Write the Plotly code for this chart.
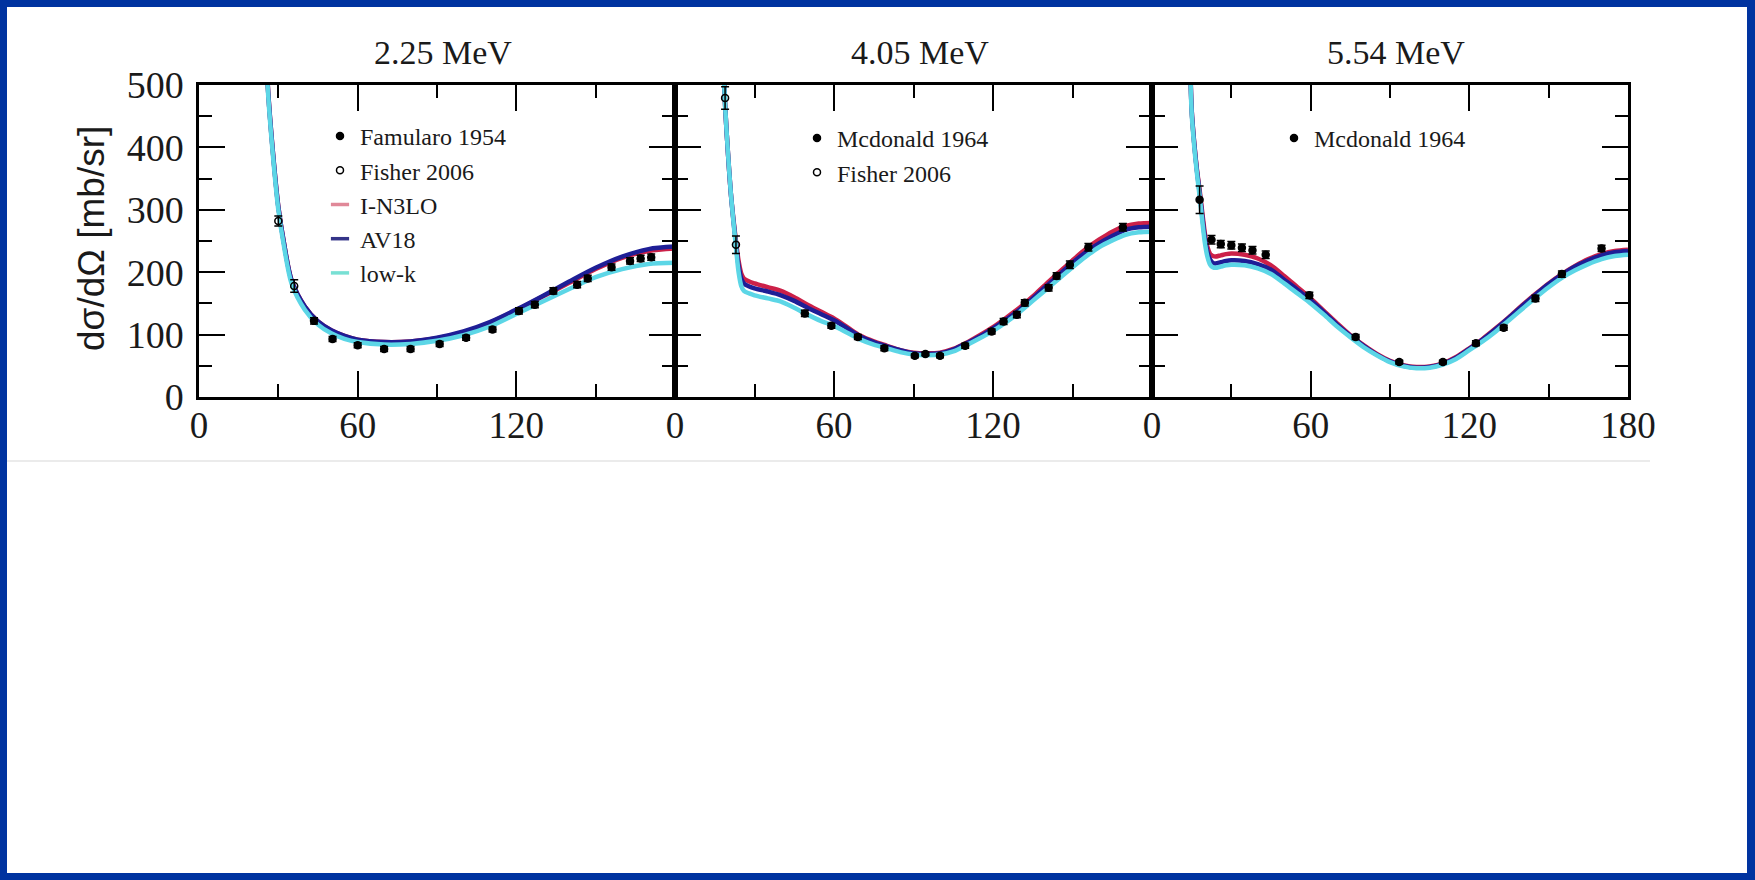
import plotly.graph_objects as go

W, H = 1755, 880

# ---------------- 2.25 MeV ----------------
theta_225 = [22, 24, 26, 28, 30, 32, 35, 40, 45, 50, 55, 60, 70, 80, 90, 100, 110, 120, 130, 140, 150, 160, 170, 180]
in3lo_225 = [1100, 720, 500, 390, 305, 250, 187, 145, 121, 107, 98, 92, 88, 89, 94, 104, 119, 139, 161, 183, 205, 223, 234, 238]
av18_225 = [1100, 720, 500, 390, 305, 250, 187, 145, 121, 107, 98, 92, 88, 89, 95, 105, 120, 140, 162, 185, 207, 225, 237, 241]
lowk_225 = [1100, 715, 495, 385, 300, 245, 182, 140, 116, 102, 93, 88, 84, 85, 90, 99, 113, 133, 153, 173, 192, 205, 213, 215]
famularo_225_x = [43.5, 50.5, 60, 70, 80, 91, 101, 111, 121, 127, 134, 143, 147, 156, 163, 167, 171]
famularo_225_y = [122, 93, 83, 77, 77, 85, 95, 108, 138, 148, 170, 180, 190, 208, 218, 222, 224]
famularo_225_err = [5, 4, 4, 4, 4, 4, 4, 4, 5, 5, 5, 5, 5, 5, 5, 5, 5]
fisher_225_x = [30, 36]
fisher_225_y = [282, 178]
fisher_225_err = [8, 10]

# ---------------- 4.05 MeV ----------------
theta_405 = [16, 17, 18, 19, 20, 21, 22, 23, 24, 25, 26, 28, 30, 35, 40, 45, 50, 55, 60, 65, 70, 75, 80, 85,
             90, 95, 100, 105, 110, 115, 120, 125, 130, 135, 140, 145, 150, 155, 160, 165, 170, 175, 180]
in3lo_405 = [900, 700, 560, 460, 390, 330, 287, 250, 218, 198, 190, 185, 182, 176, 170, 160, 148, 137, 126, 112, 98, 89, 82, 75,
             71, 70, 71, 77, 87, 99, 112, 127, 143, 161, 181, 200, 219, 237, 252, 265, 274, 278, 279]
av18_405 = [900, 700, 560, 460, 390, 330, 285, 245, 210, 190, 182, 177, 174, 169, 163, 154, 143, 133, 123, 110, 97, 88, 81, 75,
            70, 69, 70, 76, 86, 97, 110, 124, 140, 158, 177, 196, 215, 232, 246, 258, 268, 272, 273]
lowk_405 = [900, 700, 560, 460, 390, 330, 283, 240, 200, 178, 170, 166, 163, 158, 153, 143, 132, 122, 114, 103, 92, 84, 78, 72,
            68, 67, 68, 73, 83, 94, 106, 120, 136, 154, 172, 190, 208, 225, 240, 251, 260, 264, 265]
mcdonald_405_x = [49, 59, 69, 79, 90.5, 94.5, 100, 109.5, 119.5, 124, 129, 132, 141, 144, 149, 156, 169]
mcdonald_405_y = [134, 114, 96, 78, 66, 69, 66, 82, 105, 121, 132, 151, 175, 194, 212, 240, 272]
mcdonald_405_err = [5, 4, 4, 4, 3, 3, 3, 4, 4, 5, 5, 5, 5, 5, 6, 6, 6]
fisher_405_x = [18.9, 23]
fisher_405_y = [479, 244]
fisher_405_err = [18, 14]

# ---------------- 5.54 MeV ----------------
theta_554 = [13, 14, 15, 16, 17, 18, 19, 20, 21, 22, 23, 24, 26, 28, 30, 35, 40, 45, 50, 55, 60, 65, 70, 75, 80, 85, 90,
             95, 100, 105, 110, 115, 120, 125, 130, 135, 140, 145, 150, 155, 160, 165, 170, 175, 180]
in3lo_554 = [900, 620, 460, 405, 364, 332, 296, 262, 240, 229, 226, 225, 227, 229, 230, 228, 222, 211, 194, 176, 158, 138, 118,
             99, 83, 69, 58, 51, 48, 49, 54, 64, 78, 93, 110, 128, 147, 165, 182, 197, 210, 221, 229, 234, 236]
av18_554 = [900, 620, 460, 405, 362, 328, 290, 255, 232, 220, 215, 214, 216, 218, 219, 218, 213, 204, 188, 172, 155, 136, 116,
            98, 82, 68, 57, 50, 47, 48, 53, 63, 77, 92, 109, 127, 146, 164, 181, 196, 209, 219, 227, 232, 234]
lowk_554 = [900, 615, 455, 400, 358, 322, 283, 247, 224, 212, 208, 207, 209, 211, 212, 211, 206, 197, 182, 166, 150, 132, 113,
            96, 80, 67, 56, 49, 46, 47, 52, 61, 75, 89, 105, 123, 141, 159, 176, 191, 203, 213, 221, 226, 228]
mcdonald_554_x = [18, 22.5, 26, 30, 34, 38, 43, 59.5, 77, 93.5, 110, 122.5, 133, 145, 155, 170]
mcdonald_554_y = [316, 252, 245, 243, 239, 235, 228, 163, 96, 56, 56, 86, 111, 158, 197, 238]
mcdonald_554_err = [22, 7, 6, 6, 6, 6, 6, 5, 4, 3, 3, 4, 4, 5, 5, 5]

energy_titles = ["2.25 MeV", "4.05 MeV", "5.54 MeV"]
x_tickvals = [0, 60, 120, 180]
x_ticktext = [["0", "60", "120", ""], ["0", "60", "120", ""], ["0", "60", "120", "180"]]
y_tickvals = [0, 100, 200, 300, 400, 500]

C_IN3LO = "#cc2048"
C_AV18 = "#1e1e96"
C_LOWK = "#5cd6e6"
LEG_IN3LO = "#e08898"
LEG_AV18 = "#343488"
LEG_LOWK = "#78e0d4"

SERIF = "Liberation Serif"
SANS = "Liberation Sans"

fig = go.Figure()


def add_models(theta, a, b, c, ax):
    xa, ya = ("x" if ax == 1 else f"x{ax}"), ("y" if ax == 1 else f"y{ax}")
    for vals, col in ((a, C_IN3LO), (b, C_AV18), (c, C_LOWK)):
        fig.add_trace(go.Scatter(x=theta, y=vals, mode="lines", xaxis=xa, yaxis=ya,
                                 line=dict(color=col, width=4.5, shape="spline", smoothing=0.8),
                                 showlegend=False, hoverinfo="skip"))


def add_data(x, y, err, name, filled, ax, legend):
    xa, ya = ("x" if ax == 1 else f"x{ax}"), ("y" if ax == 1 else f"y{ax}")
    marker = dict(symbol="circle" if filled else "circle-open", size=7,
                  color="black", line=dict(color="black", width=1.5))
    fig.add_trace(go.Scatter(x=x, y=y, mode="markers", xaxis=xa, yaxis=ya, name=name,
                             marker=marker, legend=legend,
                             error_y=dict(type="data", array=err, color="black", thickness=1.5, width=4)))


def add_legend_line(name, col, legend):
    fig.add_trace(go.Scatter(x=[None], y=[None], mode="markers", name=name, legend=legend,
                             marker=dict(symbol="line-ew", size=13, color=col, line=dict(color=col, width=3.5))))


# Panel 1
add_models(theta_225, in3lo_225, av18_225, lowk_225, 1)
add_data(famularo_225_x, famularo_225_y, famularo_225_err, "Famularo 1954", True, 1, "legend")
add_data(fisher_225_x, fisher_225_y, fisher_225_err, "Fisher 2006", False, 1, "legend")
add_legend_line("I-N3LO", LEG_IN3LO, "legend")
add_legend_line("AV18", LEG_AV18, "legend")
add_legend_line("low-k", LEG_LOWK, "legend")

# Panel 2
add_models(theta_405, in3lo_405, av18_405, lowk_405, 2)
add_data(mcdonald_405_x, mcdonald_405_y, mcdonald_405_err, "Mcdonald 1964", True, 2, "legend2")
add_data(fisher_405_x, fisher_405_y, fisher_405_err, "Fisher 2006", False, 2, "legend2")

# Panel 3
add_models(theta_554, in3lo_554, av18_554, lowk_554, 3)
add_data(mcdonald_554_x, mcdonald_554_y, mcdonald_554_err, "Mcdonald 1964", True, 3, "legend3")

# ---- layout geometry (pixels -> paper) ----
px = lambda v: v / W
py = lambda v: (H - v) / H
x_edges = [199, 675, 1152, 1628]
y_top, y_bot = 85, 397

axis_common = dict(showline=True, linecolor="black", linewidth=2.5, mirror="ticks",
                   ticks="inside", ticklen=26, tickwidth=2, tickcolor="black",
                   showgrid=False, zeroline=False, fixedrange=True, automargin=False,
                   tickfont=dict(family=SERIF, size=37, color="#1a1a1a"))

layout = dict(width=W, height=H, autosize=False,
              margin=dict(l=0, r=0, t=0, b=0, pad=0),
              paper_bgcolor="#0033a0", plot_bgcolor="white",
              showlegend=True)

for i in range(3):
    sfx = "" if i == 0 else str(i + 1)
    layout["xaxis" + sfx] = dict(axis_common, domain=[px(x_edges[i]), px(x_edges[i + 1])],
                                 anchor="y" + sfx, range=[0, 180],
                                 tickvals=x_tickvals, ticktext=x_ticktext[i],
                                 ticklabelstandoff=-6,
                                 minor=dict(tickvals=[30, 90, 150], ticks="inside", ticklen=13,
                                            tickwidth=2, tickcolor="black"))
    layout["yaxis" + sfx] = dict(axis_common, domain=[py(y_bot), py(y_top)],
                                 anchor="x" + sfx, range=[0, 500],
                                 tickvals=y_tickvals, showticklabels=(i == 0),
                                 ticklabelstandoff=5,
                                 tickfont=dict(family=SERIF, size=38, color="#1a1a1a"),
                                 minor=dict(tickvals=[50, 150, 250, 350, 450], ticks="inside", ticklen=13,
                                            tickwidth=2, tickcolor="black"))

leg_common = dict(bgcolor="rgba(0,0,0,0)", borderwidth=0, itemwidth=30, tracegroupgap=0,
                  xanchor="left", yanchor="top", orientation="v", traceorder="normal",
                  font=dict(family=SERIF, size=24, color="#1a1a1a"), itemclick=False, itemdoubleclick=False)
layout["legend"] = dict(leg_common, x=px(320), y=py(114))
layout["legend2"] = dict(leg_common, x=px(797), y=py(116))
layout["legend3"] = dict(leg_common, x=px(1274), y=py(116))

fig.update_layout(**layout)

# white slide area and faint edge of the pasted figure
fig.add_shape(type="rect", xref="paper", yref="paper", x0=px(7), x1=px(1747), y0=py(873), y1=py(7),
              fillcolor="white", line=dict(width=0), layer="below")
fig.add_shape(type="line", xref="paper", yref="paper", x0=px(7), x1=px(1650), y0=py(461), y1=py(461),
              line=dict(color="#e4e4e4", width=1.5), layer="below")

# panel titles
for i, t in enumerate(energy_titles):
    fig.add_annotation(text=t, xref="paper", yref="paper", x=px((x_edges[i] + x_edges[i + 1]) / 2 + 6), y=py(53),
                       showarrow=False, xanchor="center", yanchor="middle",
                       font=dict(family=SERIF, size=34, color="#1a1a1a"))

# y-axis title
fig.add_annotation(text="dσ/dΩ [mb/sr]", xref="paper", yref="paper", x=px(91), y=py(239),
                   showarrow=False, textangle=-90, xanchor="center", yanchor="middle",
                   font=dict(family=SANS, size=37, color="#1a1a1a"))

fig.write_html("out.html", config={"displayModeBar": False},
               post_script="document.body.style.margin='0';document.body.style.overflow='hidden';")
